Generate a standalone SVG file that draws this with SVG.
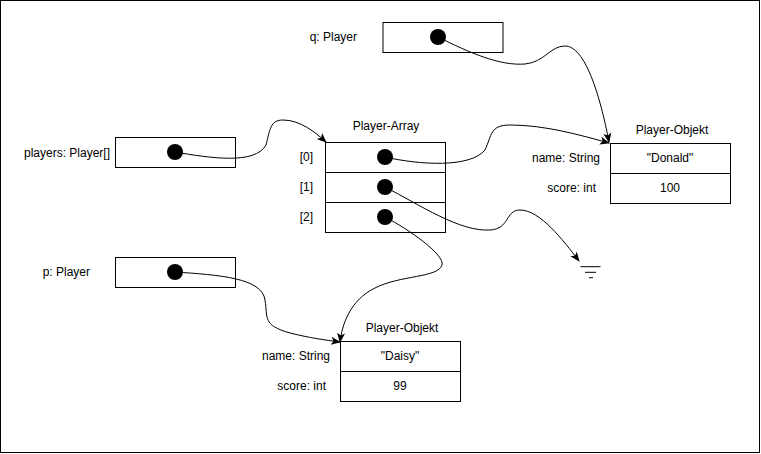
<svg xmlns="http://www.w3.org/2000/svg" width="761" height="454" viewBox="0 0 761 454">
<style>
.box{fill:#fff;stroke:#000;stroke-width:1}
.dot{fill:#000}
text{font-family:"Liberation Sans",Arial,sans-serif;font-size:12px;fill:#000}
.c{text-anchor:middle}
.r{text-anchor:end}
.edge{fill:none;stroke:#000;stroke-width:1}
</style>
<defs>
<marker id="arr" viewBox="0 0 10 10" refX="9" refY="5" markerWidth="10" markerHeight="10" markerUnits="userSpaceOnUse" orient="auto">
<path d="M0,1 L10,5 L0,9 L2.5,5 Z" fill="#000"/>
</marker>
</defs>
<rect x="0.5" y="0.5" width="759" height="452" fill="#fff" stroke="#000"/>

<g id="q">
<text class="r" x="357" y="41">q: Player</text>
<rect class="box" x="383" y="22.5" width="120" height="30"/>
<circle class="dot" cx="438" cy="37" r="8"/>
</g>

<g id="players">
<text class="r" x="110" y="157">players: Player[]</text>
<rect class="box" x="115.5" y="137.5" width="120" height="30"/>
<circle class="dot" cx="175" cy="152" r="8"/>
</g>

<g id="p">
<text class="r" x="90" y="276">p: Player</text>
<rect class="box" x="115.5" y="257.5" width="120" height="30"/>
<circle class="dot" cx="175" cy="272" r="8"/>
</g>

<g id="array">
<text class="c" x="386" y="130">Player-Array</text>
<rect class="box" x="325.5" y="142.5" width="120" height="30"/>
<rect class="box" x="325.5" y="172.5" width="120" height="30"/>
<rect class="box" x="325.5" y="202.5" width="120" height="30"/>
<text class="r" x="313" y="161">[0]</text>
<text class="r" x="313" y="191">[1]</text>
<text class="r" x="313" y="221">[2]</text>
<circle class="dot" cx="385" cy="157" r="8"/>
<circle class="dot" cx="385" cy="187" r="8"/>
<circle class="dot" cx="385" cy="217" r="8"/>
</g>

<g id="donald">
<text class="c" x="672" y="134">Player-Objekt</text>
<rect class="box" x="610.5" y="143.5" width="120" height="30"/>
<rect class="box" x="610.5" y="173.5" width="120" height="30"/>
<text class="c" x="670" y="162">"Donald"</text>
<text class="c" x="670" y="192">100</text>
<text class="r" x="600" y="162">name: String</text>
<text class="r" x="596" y="192">score: int</text>
</g>

<g id="daisy">
<text class="c" x="402" y="332">Player-Objekt</text>
<rect class="box" x="340.5" y="341.5" width="120" height="30"/>
<rect class="box" x="340.5" y="371.5" width="120" height="30"/>
<text class="c" x="400" y="360">"Daisy"</text>
<text class="c" x="400" y="390">99</text>
<text class="r" x="330" y="360">name: String</text>
<text class="r" x="326" y="390">score: int</text>
</g>

<g id="null">
<path d="M580.5,266.7 H600.5 M585,272.3 H596 M589,277.7 H593" stroke="#000" stroke-width="1" fill="none"/>
</g>

<g id="connectors">
<path class="edge" marker-end="url(#arr)" d="M438,37 C470,53 500,66 525,64 C545,62 550,46 565,46 C585,46 600,95 609,142"/>
<path class="edge" marker-end="url(#arr)" d="M175,152 C210,158 255,165 266,145 C270,130 270,120 283,120 C300,120 315,132 326,142"/>
<path class="edge" marker-end="url(#arr)" d="M385,157 C420,165 470,168 485,150 C492,135 490,125 510,125 C545,125 580,135 609,143"/>
<path class="edge" marker-end="url(#arr)" d="M385,187 C420,205 460,232 490,230 C510,229 505,210 520,210 C540,210 563,240 579,261"/>
<path class="edge" marker-end="url(#arr)" d="M385,217 C410,230 445,255 442,265 C438,278 400,275 375,288 C350,300 342,325 340,342"/>
<path class="edge" marker-end="url(#arr)" d="M175,272 C220,275 262,278 265,300 C268,318 262,325 290,333 C310,338 325,340 340,342"/>
</g>
</svg>
